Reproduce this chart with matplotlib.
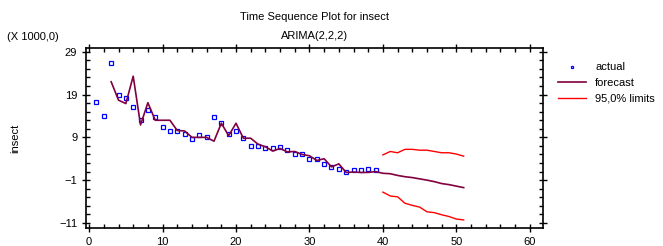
import numpy as np
import matplotlib.pyplot as plt
from matplotlib.ticker import MultipleLocator

# valores (em milhares)
t_actual = np.arange(1, 40)
actual = [17.25, 14.1, 26.4, 19.0, 18.2, 16.1, 13.0, 15.5, 13.7, 11.4,
          10.6, 10.6, 9.7, 8.6, 9.5, 9.2, 13.7, 12.3, 9.7, 10.5,
          8.8, 6.9, 6.9, 6.4, 6.4, 6.7, 6.0, 5.0, 5.0, 4.0,
          4.0, 2.8, 2.1, 1.5, 0.8, 1.3, 1.3, 1.5, 1.3]

t_forecast = np.arange(3, 52)
forecast = [22.0, 17.7, 16.9, 23.3, 11.9, 17.1, 13.0, 13.0, 13.0, 10.6,
            10.5, 9.0, 9.0, 9.0, 8.1, 12.3, 9.4, 12.3, 8.8, 8.8,
            7.4, 6.8, 5.8, 6.4, 5.6, 5.7, 5.0, 4.7, 3.6, 4.0,
            2.1, 2.8, 0.8, 0.9, 0.8, 0.8, 1.0, 0.6, 0.5, 0.1,
            -0.2, -0.4, -0.7, -1.0, -1.35, -1.8, -2.05, -2.4, -2.75]

t_limits = np.arange(40, 52)
upper = [4.9, 5.7, 5.4, 6.2, 6.2, 6.0, 6.0, 5.7, 5.4, 5.4, 5.1, 4.6]
lower = [-3.8, -4.7, -4.9, -6.4, -6.9, -7.3, -8.4, -8.6, -9.1, -9.5, -10.1, -10.3]

plt.rcParams['font.family'] = ['Liberation Sans', 'DejaVu Sans']

fig = plt.figure(figsize=(6.63, 2.46), dpi=100)
ax = fig.add_axes([0.130, 0.073, 0.689, 0.732])

ax.plot(t_actual, actual, linestyle='none', marker='s', markersize=3,
        markerfacecolor='white', markeredgecolor='#0000ff', markeredgewidth=0.9,
        label='actual')
ax.plot(t_forecast, forecast, color='#800040', linewidth=1.2, label='forecast')
ax.plot(t_limits, upper, color='#ff0000', linewidth=1.0, label='95,0% limits')
ax.plot(t_limits, lower, color='#ff0000', linewidth=1.0)

ax.set_xlim(-0.4, 61.8)
ax.set_ylim(-12.2, 29.9)
ax.set_xticks([0, 10, 20, 30, 40, 50, 60])
ax.set_yticks([-11, -1, 9, 19, 29])
ax.xaxis.set_minor_locator(MultipleLocator(2))
ax.set_yticks(np.arange(-11, 30, 2), minor=True)
ax.tick_params(which='major', direction='inout', length=6, width=1,
               top=True, right=True, labelsize=8)
ax.tick_params(which='minor', direction='in', length=3, width=1,
               top=True, right=True)
for s in ax.spines.values():
    s.set_linewidth(1.2)

ax.set_ylabel('insect', fontsize=8, labelpad=28)
fig.text(0.475, 0.93, 'Time Sequence Plot for insect', ha='center', va='center', fontsize=8)
fig.text(0.475, 0.855, 'ARIMA(2,2,2)', ha='center', va='center', fontsize=8)
fig.text(0.05, 0.85, '(X 1000,0)', ha='center', va='center', fontsize=8)

ax.legend(loc='upper left', bbox_to_anchor=(1.012, 0.975), frameon=False,
          fontsize=8, handlelength=2.5, labelspacing=0.5, markerscale=0.7)

fig.savefig('out.png', dpi=100)
